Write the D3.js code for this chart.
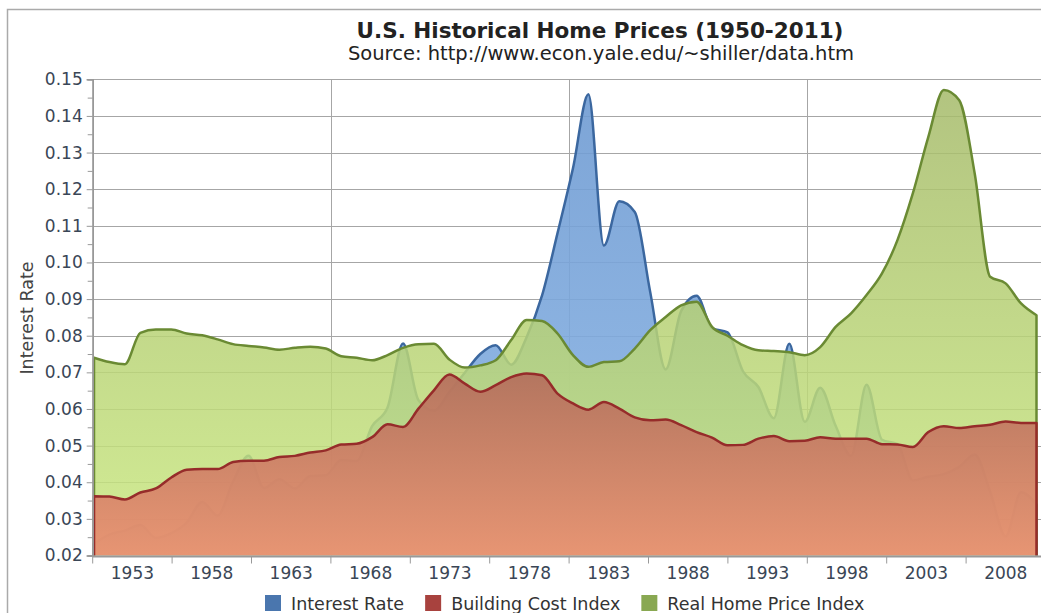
<!DOCTYPE html>
<html>
<head>
<meta charset="utf-8">
<script src="https://cdnjs.cloudflare.com/ajax/libs/d3/7.8.5/d3.min.js"></script>
<style>
body { margin: 0; background: #fff; overflow: hidden; }
text { font-family: "DejaVu Sans", Verdana, sans-serif; }
</style>
</head>
<body>
<div id="chart"></div>
<script>
// data (January values, 1950 - 2011)
var years = [1950, 1951, 1952, 1953, 1954, 1955, 1956, 1957, 1958, 1959,
    1960, 1961, 1962, 1963, 1964, 1965, 1966, 1967, 1968, 1969,
    1970, 1971, 1972, 1973, 1974, 1975, 1976, 1977, 1978, 1979,
    1980, 1981, 1982, 1983, 1984, 1985, 1986, 1987, 1988, 1989,
    1990, 1991, 1992, 1993, 1994, 1995, 1996, 1997, 1998, 1999,
    2000, 2001, 2002, 2003, 2004, 2005, 2006, 2007, 2008, 2009,
    2010, 2011];

var interestRate = [0.0232, 0.0257, 0.0268, 0.0283, 0.0248, 0.0261, 0.0290, 0.0346, 0.0309, 0.0402,
    0.0472, 0.0384, 0.0408, 0.0383, 0.0417, 0.0419, 0.0461, 0.0458, 0.0553, 0.0604,
    0.0779, 0.0624, 0.0595, 0.0646, 0.0699, 0.0750, 0.0774, 0.0721, 0.0796, 0.0910,
    0.1080, 0.1257, 0.1459, 0.1046, 0.1167, 0.1138, 0.0919, 0.0708, 0.0867, 0.0909,
    0.0821, 0.0809, 0.0703, 0.0660, 0.0575, 0.0778, 0.0565, 0.0658, 0.0554, 0.0472,
    0.0666, 0.0516, 0.0504, 0.0405, 0.0415, 0.0422, 0.0442, 0.0476, 0.0374, 0.0252,
    0.0373, 0.0339];

var buildingCost = [0.0362, 0.0361, 0.0353, 0.0372, 0.0383, 0.0413, 0.0434, 0.0436, 0.0436, 0.0455,
    0.0459, 0.0459, 0.0469, 0.0472, 0.0481, 0.0487, 0.0503, 0.0505, 0.0523, 0.0558,
    0.0551, 0.0601, 0.0651, 0.0694, 0.0669, 0.0647, 0.0665, 0.0687, 0.0697, 0.0692,
    0.0642, 0.0615, 0.0598, 0.0619, 0.0601, 0.0577, 0.0569, 0.0571, 0.0556, 0.0537,
    0.0522, 0.0501, 0.0502, 0.0519, 0.0526, 0.0512, 0.0513, 0.0523, 0.0519, 0.0519,
    0.0519, 0.0504, 0.0503, 0.0496, 0.0537, 0.0553, 0.0548, 0.0553, 0.0557, 0.0566,
    0.0562, 0.0562];

var homePrice = [0.0740, 0.0728, 0.0722, 0.0808, 0.0817, 0.0817, 0.0806, 0.0801, 0.0790, 0.0777,
    0.0772, 0.0768, 0.0762, 0.0767, 0.0770, 0.0765, 0.0744, 0.0740, 0.0733, 0.0747,
    0.0767, 0.0777, 0.0778, 0.0735, 0.0713, 0.0719, 0.0733, 0.0788, 0.0843, 0.0840,
    0.0806, 0.0747, 0.0715, 0.0728, 0.0730, 0.0765, 0.0815, 0.0851, 0.0883, 0.0893,
    0.0824, 0.0800, 0.0774, 0.0760, 0.0758, 0.0755, 0.0747, 0.0769, 0.0824, 0.0861,
    0.0911, 0.0970, 0.1061, 0.1189, 0.1343, 0.1471, 0.1443, 0.1243, 0.0961, 0.0943,
    0.0888, 0.0856];

var yTickValues = [0.02, 0.03, 0.04, 0.05, 0.06, 0.07, 0.08, 0.09, 0.10, 0.11, 0.12, 0.13, 0.14, 0.15];
var xTickLabels = ["1953", "1958", "1963", "1968", "1973", "1978", "1983", "1988", "1993", "1998", "2003", "2008"];
var seriesNames = ["Interest Rate", "Building Cost Index", "Real Home Price Index"];

var width = 1041, height = 613;
var plotLeft = 92.7, plotRight = 1045.5, plotTop = 79.3, plotBottom = 555.5;

var series = [
    { name: seriesNames[0], values: interestRate, stroke: "#3b679f", legend: "#4a76ae", top: "#6f9bd2", bottom: "#8ab5e6", op: 0.9 },
    { name: seriesNames[2], values: homePrice, stroke: "#6a8a33", legend: "#89a852", top: "#a5ba6a", bottom: "#cae981", op: 0.85 },
    { name: seriesNames[1], values: buildingCost, stroke: "#962c2a", legend: "#a8423e", top: "#b4695a", bottom: "#ec8a6f", op: 0.88 }
];

var svg = d3.select("#chart").append("svg")
    .attr("width", width)
    .attr("height", height);

// panel border
svg.append("rect")
    .attr("x", 7.5).attr("y", 9.5)
    .attr("width", width + 20).attr("height", height + 20)
    .style("fill", "white")
    .style("stroke", "#aaa")
    .style("stroke-width", 1.5);

var x = d3.scaleLinear().domain([years[0], years[years.length - 1]]).range([94, 1036.5]);
var y = d3.scaleLinear().domain([0.02, 0.15]).range([plotBottom, plotTop]);
var band = d3.scaleBand().domain(xTickLabels).range([plotLeft, plotRight]);

var defs = svg.append("defs");
series.forEach(function(s, i) {
    var grad = defs.append("linearGradient")
        .attr("id", "grad" + i)
        .attr("x1", 0).attr("y1", 0).attr("x2", 0).attr("y2", 1);
    grad.append("stop").attr("offset", "0%").attr("stop-color", s.top);
    grad.append("stop").attr("offset", "100%").attr("stop-color", s.bottom);
});

// grid
var grid = svg.append("g");
grid.selectAll(".hgrid").data(yTickValues).enter().append("line")
    .attr("x1", plotLeft).attr("x2", plotRight)
    .attr("y1", function(d) { return Math.round(y(d)) + 0.5; })
    .attr("y2", function(d) { return Math.round(y(d)) + 0.5; })
    .style("stroke", "#a6a6a6")
    .style("stroke-width", 1);

grid.selectAll(".vgrid").data([xTickLabels[3], xTickLabels[6], xTickLabels[9]]).enter().append("line")
    .attr("x1", function(d) { return Math.round(band(d)) + 0.5; })
    .attr("x2", function(d) { return Math.round(band(d)) + 0.5; })
    .attr("y1", plotTop).attr("y2", plotBottom)
    .style("stroke", "#a6a6a6")
    .style("stroke-width", 1);

// areas: blue behind, green, then red in front
var base = y.domain()[0];
series.forEach(function(s, i) {
    var pts = years.map(function(yr, j) { return [yr, s.values[j]]; });

    var area = d3.area()
        .x(function(d) { return x(d[0]); })
        .y0(y(base))
        .y1(function(d) { return y(d[1]); })
        .curve(d3.curveMonotoneX);

    var line = d3.line()
        .x(function(d) { return x(d[0]); })
        .y(function(d) { return y(d[1]); })
        .curve(d3.curveMonotoneX);

    svg.append("path")
        .attr("d", area(pts))
        .style("fill", "url(#grad" + i + ")")
        .style("fill-opacity", s.op);

    // outline with vertical ends down to the baseline
    var d = line(pts);
    var outline = "M" + x(years[0]) + "," + y(base) + "L" + d.slice(1) +
        "L" + x(years[years.length - 1]) + "," + y(base);
    svg.append("path")
        .attr("d", outline)
        .style("fill", "none")
        .style("stroke", s.stroke)
        .style("stroke-width", 2.5)
        .style("stroke-linejoin", "round");
});

// y axis (major ticks with labels, minor ticks in their own group)
var yMinor = svg.append("g").attr("transform", "translate(" + plotLeft + ",0)");
yMinor.call(d3.axisLeft(y).tickValues(d3.pairs(yTickValues).map(function(p) { return (p[0] + p[1]) / 2; }))
    .tickSize(5).tickFormat(""));
var yAxis = svg.append("g").attr("transform", "translate(" + plotLeft + ",0)");
yAxis.call(d3.axisLeft(y).tickValues(yTickValues).tickSize(6).tickPadding(4)
    .tickFormat(d3.format(".2f")));
svg.selectAll("g path.domain").style("stroke", "#999").style("stroke-width", 1.5);
yMinor.selectAll("line").style("stroke", "#999");
yAxis.selectAll("line").style("stroke", "#999");
yAxis.selectAll("text")
    .style("font-size", "17px")
    .style("fill", "#3a4656");

// x axis
var xAxis = svg.append("g");
xAxis.append("line")
    .attr("x1", plotLeft).attr("x2", plotRight)
    .attr("y1", plotBottom + 1).attr("y2", plotBottom + 1)
    .style("stroke", "#999").style("stroke-width", 2);
xAxis.selectAll(".tick").data(xTickLabels.concat(["end"])).enter().append("line")
    .attr("x1", function(d, i) { return plotLeft + i * band.step(); })
    .attr("x2", function(d, i) { return plotLeft + i * band.step(); })
    .attr("y1", plotBottom + 1).attr("y2", plotBottom + 8)
    .style("stroke", "#999");
xAxis.selectAll(".lbl").data(xTickLabels).enter().append("text")
    .attr("x", function(d) { return band(d) + band.bandwidth() / 2; })
    .attr("y", 579)
    .attr("text-anchor", "middle")
    .style("font-size", "17px")
    .style("fill", "#3a4656")
    .text(function(d) { return d; });

// axis title
svg.append("text")
    .attr("transform", "translate(33,318) rotate(-90)")
    .attr("text-anchor", "middle")
    .style("font-size", "17.5px")
    .style("fill", "#444")
    .text("Interest Rate");

// titles
svg.append("text")
    .attr("x", 600).attr("y", 38)
    .attr("text-anchor", "middle")
    .style("font-size", "21.5px")
    .style("font-weight", "bold")
    .style("fill", "#222")
    .text("U.S. Historical Home Prices (1950-2011)");
svg.append("text")
    .attr("x", 601).attr("y", 60)
    .attr("text-anchor", "middle")
    .style("font-size", "19.5px")
    .style("fill", "#222")
    .text("Source: http://www.econ.yale.edu/~shiller/data.htm");

// legend
var legendOrder = [series[0], series[2], series[1]];
var lx = 265;
legendOrder.forEach(function(s) {
    svg.append("rect")
        .attr("x", lx).attr("y", 595)
        .attr("width", 16).attr("height", 16)
        .style("fill", s.legend);
    var t = svg.append("text")
        .attr("x", lx + 26).attr("y", 610)
        .style("font-size", "17.5px")
        .style("fill", "#333")
        .text(s.name);
    lx += 26 + t.node().getComputedTextLength() + 21;
});
</script>
</body>
</html>
